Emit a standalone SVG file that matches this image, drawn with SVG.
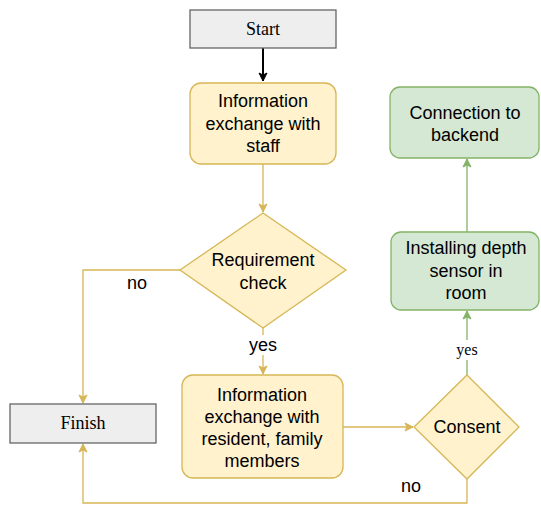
<svg xmlns="http://www.w3.org/2000/svg" width="541" height="507" viewBox="0 0 541 507">
<style>
.y{fill:#fff2cc;stroke:#d6b656;stroke-width:1.3}
.g{fill:#d5e8d4;stroke:#82b366;stroke-width:1.3}
.t{fill:#eeeeee;stroke:#666666;stroke-width:1.3}
.s{font-family:"Liberation Sans",Arial,sans-serif;font-size:18px;fill:#000;text-anchor:middle}
.r{font-family:"Liberation Serif","Times New Roman",serif;font-size:18px;fill:#000;text-anchor:middle}
.ey{fill:none;stroke:#d6b656;stroke-width:1.3}
.eg{fill:none;stroke:#82b366;stroke-width:1.3}
.ek{fill:none;stroke:#000;stroke-width:2}
</style>
<defs>
<marker id="ay" markerWidth="10" markerHeight="10" refX="9" refY="5" orient="auto" markerUnits="userSpaceOnUse"><path d="M1,1 L9,5 L1,9 L3,5 Z" fill="#d6b656" stroke="#d6b656"/></marker>
<marker id="ag" markerWidth="10" markerHeight="10" refX="9" refY="5" orient="auto" markerUnits="userSpaceOnUse"><path d="M1,1 L9,5 L1,9 L3,5 Z" fill="#82b366" stroke="#82b366"/></marker>
<marker id="ak" markerWidth="10" markerHeight="10" refX="9" refY="5" orient="auto" markerUnits="userSpaceOnUse"><path d="M1,1 L9,5 L1,9 L3,5 Z" fill="#000" stroke="#000"/></marker>
</defs>
<g id="connectors">
<path class="ek" d="M263,48 L263,81" marker-end="url(#ak)"/>
<path class="ey" d="M263,164 L263,212" marker-end="url(#ay)"/>
<path class="ey" d="M180,270 L83,270 L83,403" marker-end="url(#ay)"/>
<path class="ey" d="M263,328 L263,374" marker-end="url(#ay)"/>
<path class="ey" d="M343,427 L413,427" marker-end="url(#ay)"/>
<path class="ey" d="M467,479 L467,503 L83,503 L83,444" marker-end="url(#ay)"/>
<path class="eg" d="M467,375 L467,311" marker-end="url(#ag)"/>
<path class="eg" d="M467,232 L467,159" marker-end="url(#ag)"/>
<rect x="120" y="273" width="34" height="20" fill="#fff"/>
<text class="s" x="137" y="289">no</text>
<rect x="248" y="335" width="30" height="20" fill="#fff"/>
<text class="s" x="263" y="351">yes</text>
<text class="s" x="411" y="492">no</text>
<rect x="453" y="340" width="28" height="20" fill="#fff"/>
<text class="r" x="467" y="355" style="font-size:16px">yes</text>
</g>
<g id="start">
<rect class="t" x="190" y="10" width="146" height="38"/>
<text class="r" x="263" y="35">Start</text>
</g>
<g id="info1">
<rect class="y" x="190" y="83" width="146" height="81" rx="11"/>
<text class="s" x="263" y="107">Information</text>
<text class="s" x="263" y="130">exchange with</text>
<text class="s" x="263" y="152">staff</text>
</g>
<g id="req">
<path class="y" d="M263,213 L346,270 L263,328 L180,270 Z"/>
<text class="s" x="263" y="266">Requirement</text>
<text class="s" x="263" y="289">check</text>
</g>
<g id="finish">
<rect class="t" x="10" y="404" width="146" height="39"/>
<text class="r" x="83" y="429">Finish</text>
</g>
<g id="info2">
<rect class="y" x="182" y="375" width="161" height="103" rx="11"/>
<text class="s" x="262" y="401">Information</text>
<text class="s" x="262" y="423">exchange with</text>
<text class="s" x="262" y="445">resident, family</text>
<text class="s" x="262" y="467">members</text>
</g>
<g id="consent">
<path class="y" d="M467,375 L519,427 L467,479 L414,427 Z"/>
<text class="s" x="467" y="433">Consent</text>
</g>
<g id="install">
<rect class="g" x="391" y="232" width="148" height="78" rx="10"/>
<text class="s" x="466" y="254">Installing depth</text>
<text class="s" x="466" y="277">sensor in</text>
<text class="s" x="466" y="299">room</text>
</g>
<g id="backend">
<rect class="g" x="390" y="87" width="149" height="71" rx="10"/>
<text class="s" x="465" y="119">Connection to</text>
<text class="s" x="465" y="141">backend</text>
</g>
</svg>
